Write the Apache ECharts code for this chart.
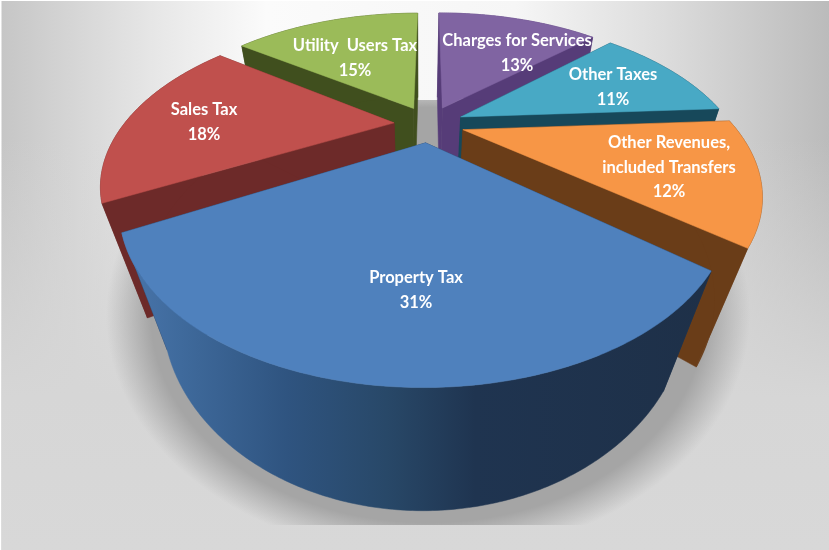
<!DOCTYPE html>
<html><head><meta charset="utf-8">
<style>html,body{margin:0;padding:0;background:#fff}#c{width:829px;height:550px}</style>
<script src="https://cdn.jsdelivr.net/npm/echarts@6/dist/echarts.min.js"></script>
</head><body><div id="c"></div>
<script>
// data, clockwise from 12 o'clock
const categories = ['Charges for Services','Other Taxes','Other Revenues,\nincluded Transfers','Property Tax','Sales Tax','Utility  Users Tax'];
const values = [13,11,12,31,18,15];
// style
const topColors = ['#8064a2','#48a9c5','#f79646','#4f81bd','#c0504d','#9bbb59'];
const wallColors = ['#563c78','#17485a','#6a3d18','#1f3550','#6d2a29','#404f1e'];
const drawRank = [0,2,4,5,3,1];
const labelAnchors = [[517,41],[613,75],[669,143],[416,278],[204,110],[355,46]];
// projection of the pie disk
const CX=429, CY=124, RX=270, RY=139, P=0.358, EXPLODE=0.13, VPX=420, VPY=1004, DEPTH=0.119;
function project(u,v,z){
  const w=1-P*v, x=CX+RX*u/w, y=CY+RY*v/w, f=z*DEPTH/w;
  return [x+f*(VPX-x), y+f*(VPY-y)];
}
const total=values.reduce((a,b)=>a+b,0);
let run=0;
const spans=values.map(v=>{const s=run/total*2*Math.PI;run+=v;return [s,run/total*2*Math.PI];});
function renderItem(params,api){
  const i=params.dataIndex, [a0,a1]=spans[i], mid=(a0+a1)/2;
  const ox=EXPLODE*Math.sin(mid), oy=-EXPLODE*Math.cos(mid);
  const rim=a=>[ox+Math.sin(a), oy-Math.cos(a)];
  const n=Math.ceil((a1-a0)*90);
  const top=[],bot=[];
  for(let k=0;k<=n;k++){const [u,v]=rim(a0+(a1-a0)*k/n);top.push(project(u,v,0));bot.push(project(u,v,1));}
  const ap0=project(ox,oy,0), ap1=project(ox,oy,1);
  const base=drawRank[i]*10;
  const wall=wallColors[i];
  const outerFill = i===3 ? new echarts.graphic.LinearGradient(0,0,1,0,[
      {offset:0,color:'#4a76ac'},{offset:.1,color:'#3f6a9c'},{offset:.28,color:'#2f5480'},{offset:.45,color:'#284868'},{offset:.6,color:'#1f3450'},{offset:1,color:'#1e3048'}]) : wall;
  const poly=(pts,fill,z2)=>({type:'polygon',shape:{points:pts},style:{fill:fill,stroke:fill,lineWidth:.5},z2:base+z2,silent:true});
  const lines=(categories[i]+'\n'+values[i]+'%');
  const la=labelAnchors[i];
  return {type:'group',children:[
    poly([ap0,top[0],bot[0],ap1],wall,0),
    poly([ap0,top[n],bot[n],ap1],wall,0),
    poly(top.concat(bot.slice().reverse()),outerFill,1),
    poly([ap0].concat(top),topColors[i],2),
    {type:'text',z2:100,silent:true,x:la[0],y:la[1]-12,style:{text:lines,fill:'#fff',
      font:'bold 16.5px Lato, "Open Sans", sans-serif',lineHeight:24.3,align:'center',verticalAlign:'top'}}
  ]};
}
const chart=echarts.init(document.getElementById('c'),null,{renderer:'canvas'});
const BG_H=new echarts.graphic.LinearGradient(0,0,1,0,[
  {offset:0,color:'#c6c6c6'},{offset:.18,color:'#e6e6e6'},{offset:.32,color:'#fbfbfb'},{offset:.62,color:'#f6f6f6'},{offset:.8,color:'#dcdcdc'},{offset:1,color:'#bbbbbb'}]);
const BG_V=new echarts.graphic.LinearGradient(0,0,0,1,[
  {offset:0,color:'rgba(214,214,214,0)'},{offset:.25,color:'rgba(214,214,214,0)'},{offset:.72,color:'rgba(214,214,214,1)'},{offset:1,color:'rgba(216,216,216,1)'}]);
const SH_S=.75, SH_X=428, SH_Y=315;
const SH=new echarts.graphic.RadialGradient(0,0,322,[
  {offset:0,color:'rgba(165,165,165,1)'},{offset:.86,color:'rgba(165,165,165,1)'},{offset:1,color:'rgba(165,165,165,0)'}],true);
chart.setOption({
  animation:false,
  graphic:[
    {type:'rect',z:-3,silent:true,shape:{x:1.5,y:1,width:829,height:550},style:{fill:BG_H}},
    {type:'rect',z:-2,silent:true,shape:{x:1.5,y:1,width:829,height:550},style:{fill:BG_V}},
    {type:'rect',z:-1,silent:true,x:SH_X,y:SH_Y,scaleY:SH_S,
      shape:{x:-420,y:(100-SH_Y)/SH_S,width:840,height:(525-100)/SH_S},style:{fill:SH}}
  ],
  series:[{type:'custom',coordinateSystem:'none',renderItem,data:values.map((v,i)=>({name:categories[i],value:v})),clip:false}]
});
</script></body></html>
